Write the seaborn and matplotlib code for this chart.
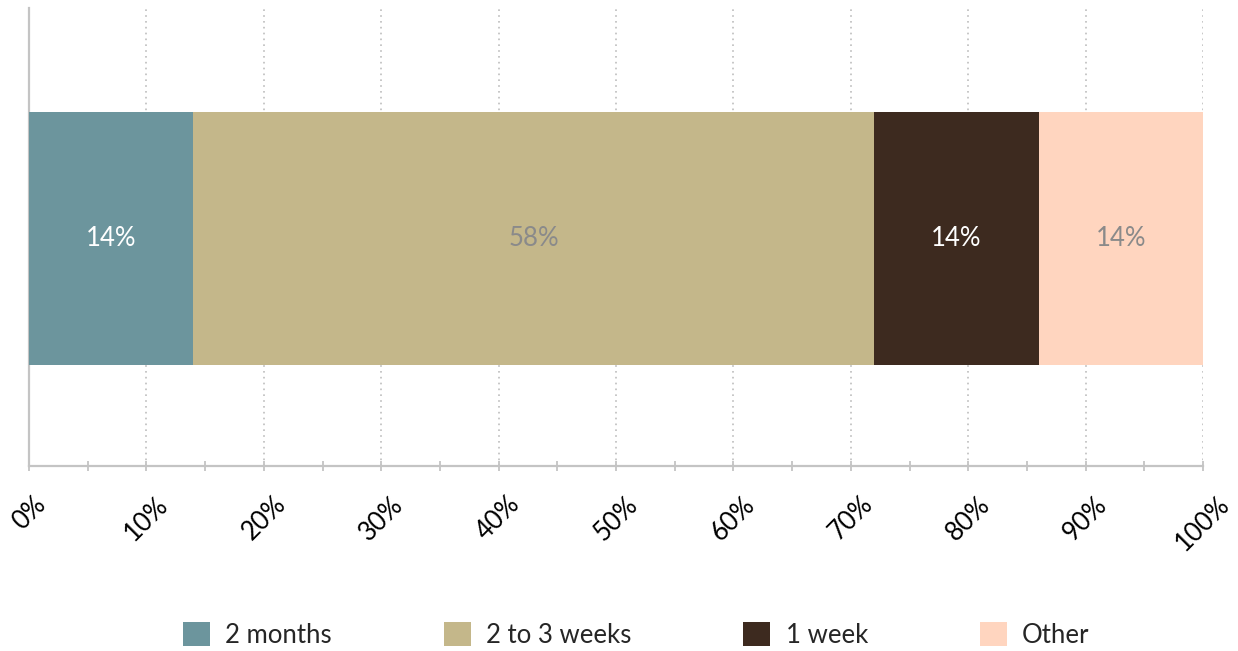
import matplotlib
matplotlib.use("Agg")
import matplotlib.pyplot as plt
import matplotlib.ticker as mticker
from matplotlib.patches import Patch
import numpy as np
import pandas as pd
import seaborn as sns

# Data
categories = ["2 months", "2 to 3 weeks", "1 week", "Other"]
shares = [14, 58, 14, 14]
colors = ["#6C959D", "#C4B78A", "#3D2A1F", "#FFD5BF"]
label_colors = ["white", "#8A8A8A", "white", "#8A8A8A"]

sns.set_theme(style="white")
plt.rcParams["font.family"] = ["Lato", "DejaVu Sans"]

fig = plt.figure(figsize=(12.38, 6.51), dpi=100)
ax = fig.add_axes([29 / 1238, 1 - 466 / 651, 1174 / 1238, 458 / 651])

# stacked bar: draw cumulative totals from largest to smallest
cum = np.cumsum(shares)
df = pd.DataFrame({"row": [""] * len(shares), "cum": cum})
for i in reversed(range(len(shares))):
    sns.barplot(data=df.iloc[[i]], x="cum", y="row", color=colors[i],
                orient="h", width=0.8, saturation=1, linewidth=0,
                edgecolor="none", ax=ax, zorder=3)

starts = cum - np.array(shares)
for s, v, c in zip(starts, shares, label_colors):
    ax.text(s + v / 2, 0, f"{v}%", ha="center", va="center",
            color=c, fontsize=18.5, zorder=4)

ax.set_xlim(0, 100)
ax.set_ylim(0.72, -0.729)
ax.set_xlabel("")
ax.set_ylabel("")
ax.set_yticks([])

ax.xaxis.set_major_locator(mticker.MultipleLocator(10))
ax.xaxis.set_minor_locator(mticker.MultipleLocator(5))
ax.xaxis.set_major_formatter(mticker.FuncFormatter(lambda v, p: f"{v:.0f}%"))
ax.tick_params(axis="x", which="both", direction="inout", length=7,
               width=1.3, color="#C4C4C4", bottom=True)
ax.tick_params(axis="x", which="major", pad=15, labelsize=18.5, labelcolor="black")
for lbl in ax.get_xticklabels():
    lbl.set_rotation(45)
    lbl.set_ha("center")

ax.grid(axis="x", which="major", linestyle=(0, (1, 2.5)), color="#BDBDBD",
        linewidth=1.2, zorder=0)
for side in ["top", "right"]:
    ax.spines[side].set_visible(False)
for side in ["left", "bottom"]:
    ax.spines[side].set_color("#C4C4C4")
    ax.spines[side].set_linewidth(1.6)

handles = [Patch(facecolor=c, edgecolor="none") for c in colors]
fig.legend(handles, categories, loc="center", bbox_to_anchor=(0.514, 1 - 635 / 651),
           ncol=4, frameon=False, fontsize=18.5, handlelength=1.05, handleheight=1.05,
           handletextpad=0.6, columnspacing=4.35)

fig.savefig("out.png", dpi=100)
